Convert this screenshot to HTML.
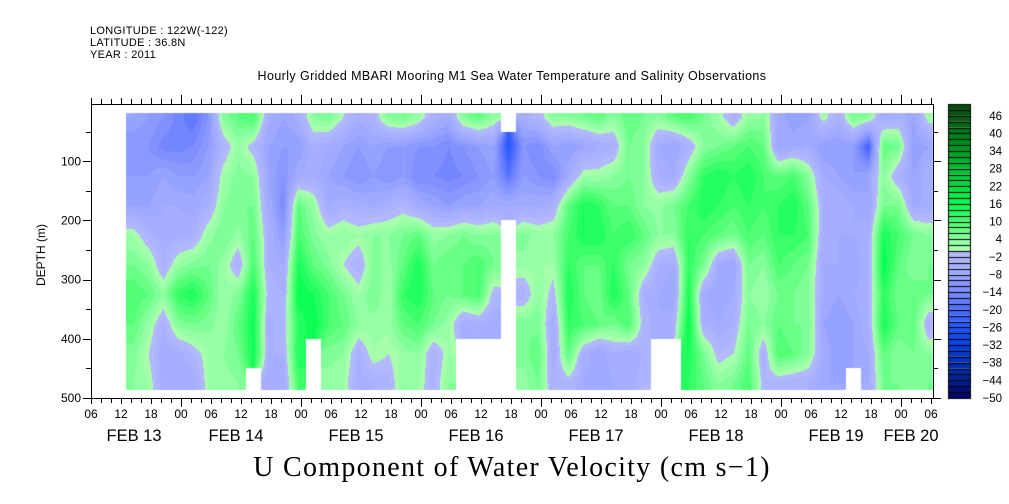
<!DOCTYPE html>
<html><head><meta charset="utf-8">
<style>
body{margin:0;background:#fff;}
#wrap{position:relative;width:1009px;height:504px;overflow:hidden;background:#fff;font-family:"Liberation Sans",sans-serif;}
canvas{position:absolute;left:0;top:0;}
svg{position:absolute;left:0;top:0;}
</style></head><body>
<div id="wrap">
<canvas id="hm" width="1009" height="504"></canvas>
<svg id="ax" width="1009" height="504">
<text x="90" y="34" font-size="11" letter-spacing="0.3">LONGITUDE : 122W(-122)</text>
<text x="90" y="46" font-size="11" letter-spacing="0.3">LATITUDE : 36.8N</text>
<text x="90" y="58" font-size="11" letter-spacing="0.3">YEAR : 2011</text>
<text x="512" y="80" font-size="12.5" letter-spacing="0.4" text-anchor="middle">Hourly Gridded MBARI Mooring M1 Sea Water Temperature and Salinity Observations</text>
<text x="512" y="476" font-size="28" letter-spacing="1.3" text-anchor="middle" font-family="Liberation Serif, serif">U Component of Water Velocity (cm s−1)</text>
<text transform="translate(45,255) rotate(-90)" font-size="12" text-anchor="middle">DEPTH (m)</text>
</svg>
</div>
<script>
// time in hours since Feb 13 00:00; columns every 3 h starting at 13 h
const colStartHour = 13;
const colStepHours = 3;
const depthRows = [25,75,125,175,225,275,325,375,425,475];
const N = NaN;
const uCols = [
[-8,-12,-10,-8,2,6,10,8,5,4],
[-10,-12,-10,-8,-3,4,8,3,0,2],
[-12,-15,-8,-6,-5,-4,4,-4,-6,-5],
[-15,-15,-10,-6,-5,3,12,5,-5,-6],
[-18,-14,-10,-7,-4,5,14,6,-2,-6],
[-12,-10,-8,-4,3,6,8,5,2,2],
[5,-3,2,4,6,3,2,2,4,3],
[8,3,5,6,3,-4,5,8,6,4],
[10,-2,4,6,8,10,14,15,15,N],
[-5,-8,-8,-6,-4,-4,-2,-5,-4,-5],
[-8,-10,-12,-14,-10,-6,-4,-2,-4,-6],
[-5,-10,-6,8,10,14,16,12,14,10],
[4,-4,-5,3,5,8,14,16,N,N],
[6,-6,-8,-6,2,5,10,10,5,3],
[0,-8,-10,-4,4,0,6,8,4,2],
[-5,-10,-12,-5,2,-4,2,4,-4,-5],
[-3,-8,-10,-6,4,5,6,3,2,-4],
[5,-10,-12,-4,4,3,2,3,0,-3],
[6,-10,-10,-2,6,8,12,8,3,4],
[3,-12,-14,-6,8,14,14,10,4,2],
[-4,-12,-14,-8,3,6,8,6,-4,-3],
[-6,-14,-15,-10,4,8,6,3,2,4],
[5,-12,-14,-8,6,8,8,-6,N,N],
[8,-10,-12,-8,4,10,10,-4,N,N],
[3,-8,-10,-6,5,6,-2,-6,N,N],
[N,-25,-18,-6,N,N,N,N,N,N],
[-5,-12,-10,-6,5,3,-4,6,5,3],
[-2,-14,-12,-6,3,2,4,5,8,6],
[4,-8,-14,-4,4,2,-2,-6,-6,-4],
[4,-10,-6,8,10,12,14,12,8,-2],
[6,-8,2,14,14,8,8,10,-4,-6],
[8,-6,2,12,14,8,6,8,-8,-8],
[4,-4,4,8,10,12,14,6,-4,-6],
[8,6,6,8,12,6,8,10,-6,-6],
[6,4,4,4,8,4,-4,-2,-4,-2],
[4,-6,-4,3,4,-4,-6,-6,N,N],
[8,-8,-6,6,4,-6,-8,-4,N,N],
[10,-4,4,10,12,12,14,16,14,12],
[6,4,12,14,10,6,-6,-4,6,8],
[2,6,14,12,8,-6,-8,-6,-2,4],
[-4,8,12,10,6,-8,-6,-4,0,6],
[3,10,14,12,10,6,4,6,8,10],
[4,8,10,10,8,4,2,4,-4,-2],
[-6,-8,8,12,12,10,6,8,10,-3],
[-10,-6,10,14,12,8,6,6,8,-4],
[-8,-6,4,8,10,6,4,6,4,-4],
[2,-10,-6,-4,-5,-6,-6,-8,-6,-8],
[-4,-10,-8,-4,-6,-6,-8,-10,-10,-8],
[6,-10,-10,-6,-6,-8,-6,-8,-8,N],
[4,-22,-8,-8,-4,-4,-4,-4,-6,-6],
[-6,8,4,6,14,16,12,14,8,6],
[-4,6,-4,6,10,8,6,8,4,6],
[-8,-10,-8,-6,6,4,8,8,6,4],
[2,-8,-4,-6,4,6,6,-4,4,6]
];
const yTicks = [100,200,300,400,500];
const cbLabels = [-50,-44,-38,-32,-26,-20,-14,-8,-2,4,10,16,22,28,34,40,46];
const hourLabels = ["06","12","18","00","06","12","18","00","06","12","18","00","06","12","18","00","06","12","18","00","06","12","18","00","06","12","18","00","06"];
const dayLabels = ["FEB 13","FEB 14","FEB 15","FEB 16","FEB 17","FEB 18","FEB 19","FEB 20"];
const dayLabelHours = [14.6,35,59,83,107,131,155,170];

// axis functions
const X0=91, X1=933, Y0=104, Y1=398;
const T0=6; // hours at left edge
const xOf = h => X0 + (h - T0) * 5;
const yOf = d => Y1 - (500 - d) * (236.7/400);
const dataTop = 18, dataBot = 487;

// colour scale
const negStops=[[0,[182,186,255]],[-8,[154,166,255]],[-14,[123,140,255]],[-20,[74,106,255]],[-26,[30,85,255]],[-32,[10,64,224]],[-38,[0,48,176]],[-44,[0,32,144]],[-50,[0,0,96]]];
const posStops=[[0,[176,255,176]],[4,[140,255,160]],[10,[70,255,110]],[16,[0,255,80]],[22,[0,221,68]],[28,[0,187,51]],[34,[0,153,34]],[40,[0,122,26]],[46,[0,90,16]],[50,[0,70,10]]];
function interp(stops,v){
  for(let i=0;i<stops.length-1;i++){
    const a=stops[i],b=stops[i+1];
    const lo=Math.min(a[0],b[0]),hi=Math.max(a[0],b[0]);
    if(v>=lo&&v<=hi){const t=(v-a[0])/(b[0]-a[0]);return a[1].map((c,k)=>Math.round(c+(b[1][k]-c)*t));}
  }
  return stops[stops.length-1][1];
}
function colorOf(v){
  v=Math.max(-50,Math.min(49.9,v));
  const band=Math.floor(v/2)*2;
  const mid=band+1;
  return mid<0?interp(negStops,mid):interp(posStops,mid);
}

// heatmap
const cv=document.getElementById('hm');
const ctx=cv.getContext('2d');
const nC=uCols.length, nR=depthRows.length;
const xa=Math.round(xOf(colStartHour)), xb=X1;
const ya=Math.round(yOf(dataTop)), yb=Math.round(yOf(dataBot));
const img=ctx.createImageData(xb-xa,yb-ya);
for(let py=ya;py<yb;py++){
  const d=500-(Y1-py-0.5)/(236.7/400);
  let rf=(d-depthRows[0])/50; rf=Math.max(0,Math.min(nR-1,rf));
  const r0=Math.floor(rf), r1=Math.min(nR-1,r0+1), tr=rf-r0;
  const rn=Math.round(rf);
  for(let px=xa;px<xb;px++){
    const h=T0+(px+0.5-X0)/5;
    let cf=(h-colStartHour)/colStepHours-0.5; cf=Math.max(0,Math.min(nC-1,cf));
    const c0=Math.floor(cf), c1=Math.min(nC-1,c0+1), tc=cf-c0;
    const cn=Math.round(cf);
    const idx=((py-ya)*(xb-xa)+(px-xa))*4;
    if(isNaN(uCols[cn][rn])){img.data[idx]=255;img.data[idx+1]=255;img.data[idx+2]=255;img.data[idx+3]=255;continue;}
    const pts=[[uCols[c0][r0],(1-tc)*(1-tr)],[uCols[c1][r0],tc*(1-tr)],[uCols[c0][r1],(1-tc)*tr],[uCols[c1][r1],tc*tr]];
    let s=0,w=0;for(const p of pts){if(!isNaN(p[0])){s+=p[0]*p[1];w+=p[1];}}
    const v=w>0?s/w:uCols[cn][rn];
    const col=colorOf(v);
    img.data[idx]=col[0];img.data[idx+1]=col[1];img.data[idx+2]=col[2];img.data[idx+3]=255;
  }
}
ctx.putImageData(img,xa,ya);

// colourbar
const CBX=948, CBW=22, CBT=104, CBB=398;
const cbY = v => CBB - (v+50)/100*(CBB-CBT);
for(let v=-50;v<50;v+=2){
  const c=colorOf(v+1);
  ctx.fillStyle=`rgb(${c[0]},${c[1]},${c[2]})`;
  ctx.fillRect(CBX,cbY(v+2),CBW,cbY(v)-cbY(v+2));
  ctx.strokeStyle='#000';ctx.lineWidth=1;
  ctx.beginPath();ctx.moveTo(CBX,Math.round(cbY(v))+0.5);ctx.lineTo(CBX+CBW,Math.round(cbY(v))+0.5);ctx.stroke();
}
ctx.strokeRect(CBX+0.5,CBT+0.5,CBW,CBB-CBT);

// axes SVG
const NS='http://www.w3.org/2000/svg';
const svg=document.getElementById('ax');
function line(x1,y1,x2,y2,name){
  const l=document.createElementNS(NS,'line');
  l.setAttribute('x1',x1);l.setAttribute('y1',y1);l.setAttribute('x2',x2);l.setAttribute('y2',y2);
  l.setAttribute('stroke','#000');l.setAttribute('stroke-width','1');
  
  
  svg.appendChild(l);
}
function text(x,y,s,size,anchor,name){
  const t=document.createElementNS(NS,'text');
  t.setAttribute('x',x);t.setAttribute('y',y);t.setAttribute('font-size',size);t.setAttribute('text-anchor',anchor);
  t.textContent=s;
  
  
  svg.appendChild(t);
}
const r=document.createElementNS(NS,'rect');
r.setAttribute('x',X0+0.5);r.setAttribute('y',Y0+0.5);r.setAttribute('width',X1-X0);r.setAttribute('height',Y1-Y0);
r.setAttribute('fill','none');r.setAttribute('stroke','#000');


svg.appendChild(r);
for(let h=T0;xOf(h)<=X1+0.1;h+=2){
  const x=Math.round(xOf(h))+0.5;
  const major=(h%24===0), mid=(h%6===0);
  const len=major?9:(mid?6:5);
  line(x,Y0,x,Y0-len,'x-tick-top');
  line(x,Y1,x,Y1+len,'x-tick-bottom');
}
hourLabels.forEach((s,i)=>{text(xOf(T0+6*i),418,s,12,'middle','x-hour-label');});
dayLabels.forEach((s,i)=>{text(xOf(dayLabelHours[i]),441,s,16.5,'middle','x-day-label');});
for(let d=50;d<=500;d+=50){
  const y=Math.round(yOf(d))+0.5;
  const len=(d%100===0)?8:5;
  line(X0,y,X0-len,y,'y-tick-left');
  line(X1,y,X1+len,y,'y-tick-right');
}
yTicks.forEach(d=>text(81,yOf(d)+4,String(d),12,'end','y-tick-label'));
cbLabels.forEach(v=>text(1002,cbY(v)+4,String(v).replace('-','−'),11.5,'end','colorbar-label'));
</script>
</body></html>
